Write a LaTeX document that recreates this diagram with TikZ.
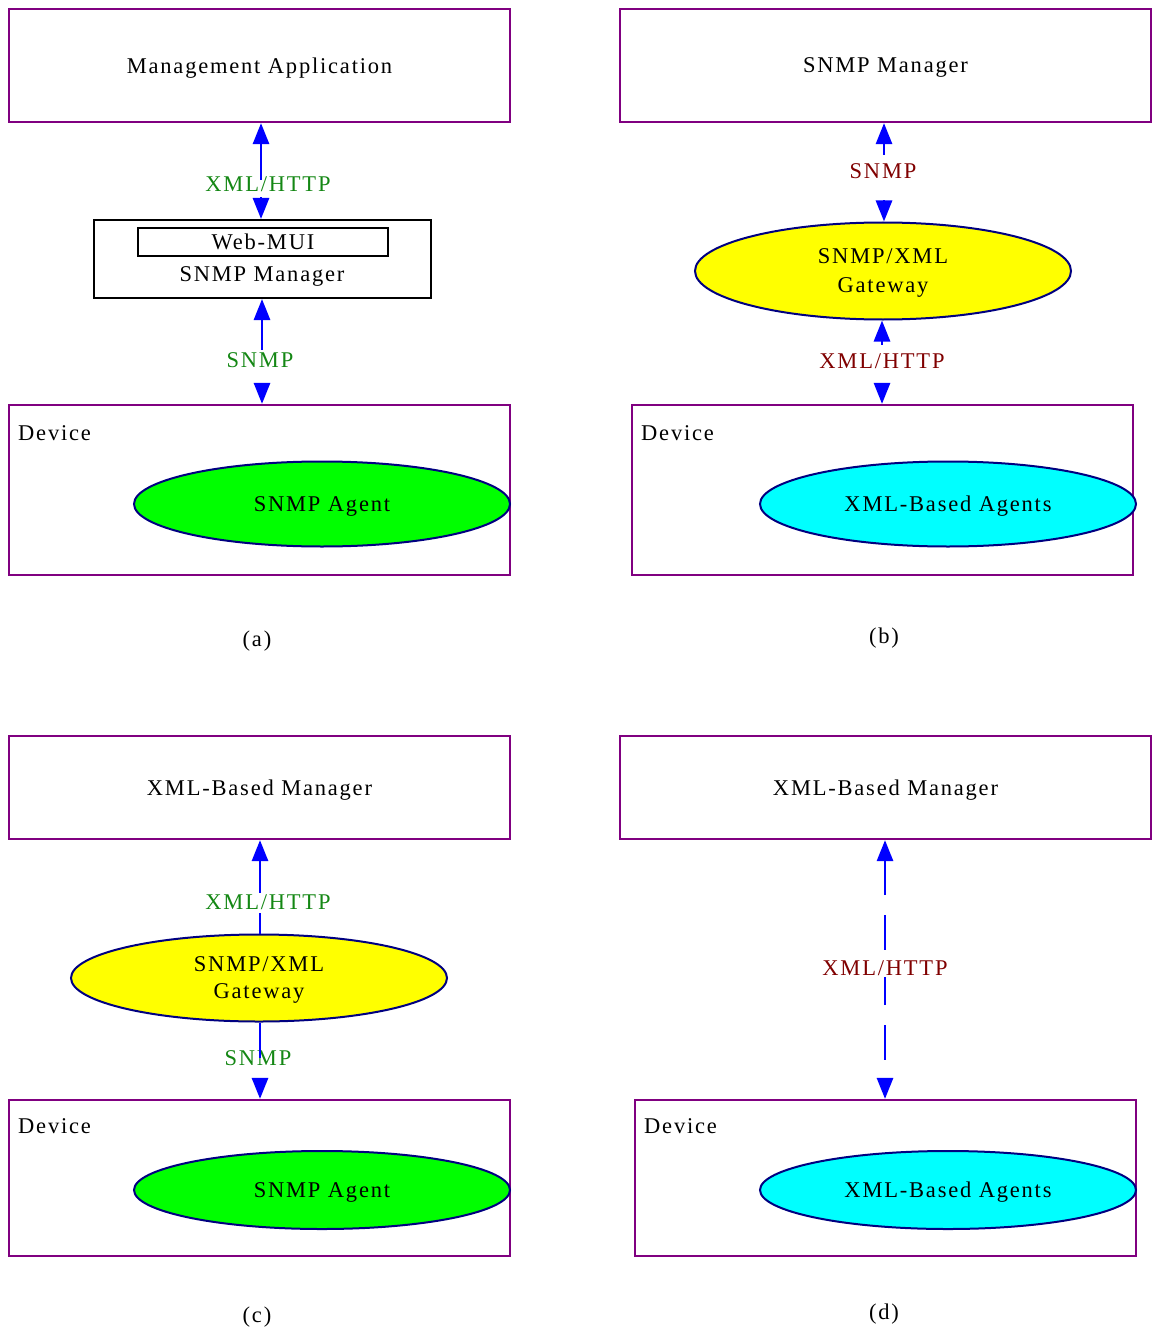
\documentclass[tikz,border=0pt]{standalone}
\usepackage{fontspec}
\setmainfont{Liberation Serif}[LetterSpace=8]
\usetikzlibrary{arrows.meta,shapes.geometric}

\definecolor{boxpurple}{RGB}{128,0,128}
\definecolor{arrowblue}{RGB}{0,0,255}
\definecolor{navyline}{RGB}{0,0,128}
\definecolor{lblgreen}{RGB}{20,135,20}
\definecolor{lblred}{RGB}{128,0,0}
\definecolor{agentgreen}{RGB}{0,255,0}
\definecolor{agentcyan}{RGB}{0,255,255}
\definecolor{gwyellow}{RGB}{255,255,0}

\begin{document}
\begin{tikzpicture}[x=1pt,y=-1pt,
  every node/.style={font=\fontsize{22.5}{29}\selectfont, inner sep=0pt},
  box/.style={rectangle, draw=boxpurple, line width=2.2pt},
  plainbox/.style={rectangle, draw=black, line width=2pt},
  blob/.style={ellipse, draw=navyline, line width=2pt, text depth=0pt},
  conn/.style={draw=arrowblue, line width=2.8pt},
  tipend/.style={-{Triangle[width=16pt,length=21pt]}},
  lbl/.style={anchor=base, inner sep=0pt},
  devlabel/.style={anchor=base west}]

\useasboundingbox (0,0) rectangle (1152,1332);

% ---------- (a) ----------
\node[box, minimum width=501pt, minimum height=113pt, text depth=0pt] (mgmtA) at (259.5,65.5) {Management Application};
\node[plainbox, minimum width=337pt, minimum height=78pt] (webA) at (262.5,259) {};
\node[plainbox, minimum width=250pt, minimum height=28pt] (muiA) at (263,242) {Web-MUI};
\node[anchor=base] (smgrA) at (262,281) {SNMP Manager};
\node[box, minimum width=501pt, minimum height=170pt] (devA) at (259.5,490) {};
\node[devlabel] (devAtxt) at (18,440) {Device};
\node[blob, fill=agentgreen, minimum width=376pt, minimum height=85pt] (agentA) at (322,504) {SNMP Agent};
\node (capA) at (257,641) {(a)};

\coordinate (axA) at (261,0);
\coordinate (axA2) at (262,0);
\node[lbl, text=lblgreen, text height=12pt, text depth=5pt] (xhA) at (268,192) {XML/HTTP};
\draw[conn, tipend] (xhA.north -| axA) -- (mgmtA.south -| axA);
\draw[conn, tipend] (xhA.south -| axA) -- (webA.north -| axA);
\node[lbl, text=lblgreen, text height=17pt, text depth=16pt] (snA) at (260,367) {SNMP};
\draw[conn, tipend] (snA.north -| axA2) -- (webA.south -| axA2);
\draw[conn, tipend] (snA.south -| axA2) -- (devA.north -| axA2);

% ---------- (b) ----------
\node[box, minimum width=531pt, minimum height=113pt, text depth=0pt] (mgrB) at (885.5,65.5) {SNMP Manager};
\node[blob, fill=gwyellow, minimum width=376pt, minimum height=97pt, align=center] (gwB) at (883,271) {SNMP/XML\\Gateway};
\node[box, minimum width=501pt, minimum height=170pt] (devB) at (882.5,490) {};
\node[devlabel] (devBtxt) at (641,440) {Device};
\node[blob, fill=agentcyan, minimum width=376pt, minimum height=85pt] (agentB) at (948,504) {XML-Based Agents};
\node (capB) at (884,638) {(b)};

\coordinate (axB) at (884,0);
\coordinate (axB2) at (882,0);
\node[lbl, text=lblred, text height=24pt, text depth=21pt] (snB) at (883,179) {SNMP};
\draw[conn, tipend] (snB.north -| axB) -- (mgrB.south -| axB);
\draw[conn, tipend] (snB.south -| axB) -- (gwB.north -| axB);
\node[lbl, text=lblred, text height=23pt, text depth=15pt] (xhB) at (882,368) {XML/HTTP};
\draw[conn, tipend] (xhB.north -| axB2) -- (gwB.south -| axB2);
\draw[conn, tipend] (xhB.south -| axB2) -- (devB.north -| axB2);

% ---------- (c) ----------
\node[box, minimum width=501pt, minimum height=103pt, text depth=0pt] (mgrC) at (259.5,787.5) {XML-Based Manager};
\node[blob, fill=gwyellow, minimum width=376pt, minimum height=87pt, align=center,
      font=\fontsize{22.5}{27}\selectfont] (gwC) at (259,978) {SNMP/XML\\Gateway};
\node[box, minimum width=501pt, minimum height=156pt] (devC) at (259.5,1178) {};
\node[devlabel] (devCtxt) at (18,1133) {Device};
\node[blob, fill=agentgreen, minimum width=376pt, minimum height=78pt] (agentC) at (322,1190) {SNMP Agent};
\node (capC) at (257,1317) {(c)};

\coordinate (axC) at (260,0);
\node[lbl, text=lblgreen, text height=16pt, text depth=4pt] (xhC) at (268,909) {XML/HTTP};
\draw[conn] (gwC.north -| axC) -- (xhC.south -| axC);
\draw[conn, tipend] (xhC.north -| axC) -- (mgrC.south -| axC);
\node[lbl, text=lblgreen, text height=7pt, text depth=13pt] (snC) at (258,1065) {SNMP};
\draw[conn] (gwC.south -| axC) -- (snC.north -| axC);
\draw[conn, tipend] (snC.south -| axC) -- (devC.north -| axC);

% ---------- (d) ----------
\node[box, minimum width=531pt, minimum height=103pt, text depth=0pt] (mgrD) at (885.5,787.5) {XML-Based Manager};
\node[box, minimum width=501pt, minimum height=156pt] (devD) at (885.5,1178) {};
\node[devlabel] (devDtxt) at (644,1133) {Device};
\node[blob, fill=agentcyan, minimum width=376pt, minimum height=78pt] (agentD) at (948,1190) {XML-Based Agents};
\node (capD) at (884,1314) {(d)};

\coordinate (axD) at (885,0);
\draw[conn, dash pattern=on 35pt off 20pt,
      {Triangle[width=16pt,length=21pt]}-{Triangle[width=16pt,length=21pt]}]
  (mgrD.south -| axD) -- (devD.north -| axD);
\node[fill=white, inner sep=1pt, text=lblred] (xhD) at (885,968) {XML/HTTP};

\end{tikzpicture}
\end{document}
